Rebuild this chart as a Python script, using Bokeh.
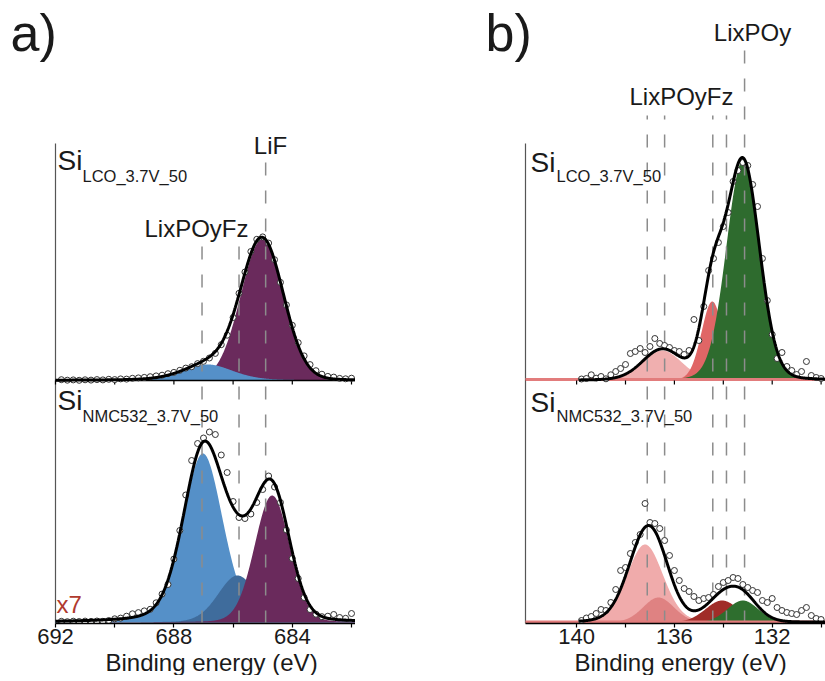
import numpy as np
from bokeh.plotting import figure
from bokeh.layouts import row
from bokeh.models import Range1d, Label, FixedTicker, Title
from bokeh.embed import file_html
from bokeh.resources import INLINE

# ---------------- data ----------------
# a) F 1s region
energy_a = [691.8, 691.6, 691.4, 691.2, 691.0, 690.8, 690.6, 690.4, 690.2, 690.0,
            689.8, 689.6, 689.4, 689.2, 689.0, 688.8, 688.6, 688.4, 688.2, 688.0,
            687.8, 687.6, 687.4, 687.2, 687.0, 686.8, 686.6, 686.4, 686.2, 686.0,
            685.8, 685.6, 685.4, 685.2, 685.0, 684.8, 684.6, 684.4, 684.2, 684.0,
            683.8, 683.6, 683.4, 683.2, 683.0, 682.8, 682.6, 682.4, 682.2, 682.0]
f1s_lco = [0.8, 0.3, 0.6, 0.2, 0.7, 0.4, 0.9, 0.6, 1.2, 0.9,
           1.6, 1.4, 2.2, 2.6, 3.1, 3.8, 4.6, 5.3, 6.8, 8.1,
           10.2, 12.4, 13.8, 16.9, 19.2, 22.5, 27.1, 35.8, 45.3, 63.0,
           87.2, 108.5, 129.0, 141.2, 143.6, 137.4, 120.8, 98.1, 75.6, 55.2,
           37.8, 24.6, 15.9, 9.8, 6.3, 4.1, 3.4, 2.1, 1.7, 2.3]
f1s_nmc = [1.2, 0.8, 1.3, 1.0, 1.4, 1.1, 1.5, 1.2, 2.0, 3.7,
           4.4, 6.3, 8.7, 9.9, 11.6, 13.2, 19.7, 28.4, 38.0, 63.5,
           92.0, 127.5, 162.0, 179.0, 184.5, 190.5, 188.0, 167.5, 150.0, 121.0,
           105.0, 104.0, 108.5, 120.0, 133.0, 146.5, 135.5, 120.0, 92.5, 64.0,
           44.0, 25.0, 13.0, 8.3, 5.8, 6.3, 8.0, 5.0, 4.2, 9.0]

# b) P 2p region
energy_b = [139.8, 139.6, 139.4, 139.2, 139.0, 138.8, 138.6, 138.4, 138.2, 138.0,
            137.8, 137.6, 137.4, 137.2, 137.0, 136.8, 136.6, 136.4, 136.2, 136.0,
            135.8, 135.6, 135.4, 135.2, 135.0, 134.8, 134.6, 134.4, 134.2, 134.0,
            133.8, 133.6, 133.4, 133.2, 133.0, 132.8, 132.6, 132.4, 132.2, 132.0,
            131.8, 131.6, 131.4, 131.2, 131.0, 130.8, 130.6, 130.4, 130.2, 130.0]
p2p_lco = [1.5, 2.0, 5.7, 2.3, 4.0, 1.7, 5.7, 9.0, 12.0, 16.0,
           27.0, 29.0, 32.0, 28.0, 34.0, 42.0, 37.0, 35.0, 33.0, 30.0,
           29.0, 26.0, 30.0, 61.0, 40.0, 74.0, 110.0, 122.0, 138.0, 154.0,
           168.0, 199.0, 210.0, 218.0, 215.0, 196.0, 174.0, 122.0, 80.0, 46.0,
           22.0, 28.0, 14.0, 10.0, 6.0, 9.0, 19.0, 5.0, 3.0, 2.0]
p2p_nmc = [2.0, 4.5, 6.0, 9.0, 13.0, 12.0, 20.0, 33.0, 52.0, 55.0,
           69.0, 80.0, 88.0, 119.0, 100.0, 99.0, 94.0, 82.0, 67.0, 52.0,
           42.0, 34.0, 31.0, 26.0, 22.0, 24.0, 25.0, 28.0, 36.0, 40.0,
           42.0, 45.0, 44.0, 38.0, 35.0, 32.0, 30.0, 22.0, 20.0, 24.0,
           15.0, 12.0, 10.0, 9.0, 8.0, 12.0, 15.0, 7.0, 4.0, 3.0]

# fitted components: centre (eV), height, FWHM (eV), Lorentzian fraction
# (listed in drawing order, back to front)
f1s_lco_names = ["LiF", "LixPOyFz"]
f1s_lco_center = [685.02, 686.85]
f1s_lco_height = [141.0, 16.0]
f1s_lco_fwhm = [1.7, 2.0]
f1s_lco_eta = [0.05, 0.35]

f1s_nmc_names = ["LixPOyFz", "LixPOyFz (2)", "LiF"]
f1s_nmc_center = [687.02, 685.85, 684.68]
f1s_nmc_height = [169.0, 47.0, 127.0]
f1s_nmc_fwhm = [1.6, 1.55, 1.4]
f1s_nmc_eta = [0.25, 0.15, 0.1]

p2p_lco_names = ["LixPOyFz", "LixPOyFz (2)", "LixPOy"]
p2p_lco_center = [136.5, 134.45, 133.2]
p2p_lco_height = [30.0, 79.0, 220.0]
p2p_lco_fwhm = [1.9, 1.05, 1.6]
p2p_lco_eta = [0.1, 0.1, 0.1]

p2p_nmc_names = ["LixPOyFz", "LixPOyFz (b)", "LixPOyFz (2)", "LixPOy"]
p2p_nmc_center = [137.2, 136.65, 134.05, 133.2]
p2p_nmc_height = [78.0, 25.0, 22.0, 22.0]
p2p_nmc_fwhm = [1.75, 1.5, 1.6, 1.5]
p2p_nmc_eta = [0.15, 0.1, 0.1, 0.1]

# reference (dashed) line energies
ref_a_lif = [684.9]
ref_a_lixpoyfz = [687.05, 685.8]
ref_b_lixpoy = [133.13]
ref_b_lixpoyfz = [137.11, 136.4, 134.43, 133.87]

# axis ticks
ticks_a_major = [692, 688, 684]
ticks_a_minor = [690, 686, 682]
ticks_b_major = [140, 136, 132]
ticks_b_minor = [138, 134, 130]

# ---------------- styles / layout ----------------
FONT = "Liberation Sans"
TXT = "#1a1a1a"
Y_TOP = 242          # vertical offset of the upper spectrum
col_f1s_lco = ["#6a2a5c", "#5590c8"]
col_f1s_nmc = ["#5590c8", "#3f6c9c", "#6a2a5c"]
col_p2p_lco = ["#f0afaf", "#e06666", "#2e6b2e"]
col_p2p_nmc = ["#f0abab", "#df8282", "#a02d28", "#2e6e2e"]


def pv(x, c, h, w, eta):
    t = ((x - c) / w) ** 2
    return h * ((1 - eta) * np.exp(-4 * np.log(2) * t) + eta / (1 + 4 * t))


def ypx(p):
    return 622 - p


def make_fig(x0, x1, frame_w, bounds, tmaj, tmin, title_offset):
    p = figure(frame_width=frame_w, frame_height=618, min_border_left=0, min_border_right=0,
               min_border_top=5, min_border_bottom=0,
               x_range=Range1d(x0, x1), y_range=Range1d(-1, 617),
               output_backend="svg", toolbar_location=None,
               background_fill_color="white", border_fill_color="white")
    p.outline_line_color = None
    p.grid.visible = False
    p.yaxis.visible = False
    xa = p.xaxis[0]
    xa.bounds = bounds
    xa.ticker = FixedTicker(ticks=tmaj, minor_ticks=tmin)
    xa.major_label_text_font = FONT
    xa.major_label_text_font_size = "22px"
    xa.major_label_text_color = TXT
    xa.major_label_standoff = 1
    xa.axis_line_width = 1.5
    xa.axis_line_color = "black"
    xa.major_tick_out = 4
    xa.major_tick_in = 0
    xa.minor_tick_out = 4
    xa.minor_tick_in = 0
    xa.major_tick_line_width = 1.2
    xa.minor_tick_line_width = 1.2
    p.add_layout(Title(text="Binding energy (eV)", align="left", offset=title_offset,
                       text_font=FONT, text_font_size="24px", text_font_style="normal",
                       text_color=TXT, standoff=0), "below")
    # left (intensity) axis line, no ticks
    p.segment(x0=[bounds[1]], x1=[bounds[1]], y0=[-1], y1=[ypx(143)],
              line_color="#555555", line_width=1.2)
    return p


def fills(p, grid, centers, heights, fwhms, etas, colors, offset):
    for c, h, w, e, col in zip(centers, heights, fwhms, etas, colors):
        p.varea(x=grid, y1=np.full_like(grid, offset), y2=offset + pv(grid, c, h, w, e),
                fill_color=col, fill_alpha=1.0)


def envelope(p, grid, centers, heights, fwhms, etas, offset):
    env = np.zeros_like(grid)
    for c, h, w, e in zip(centers, heights, fwhms, etas):
        env = env + pv(grid, c, h, w, e)
    p.line(grid, offset + env, line_color="black", line_width=3)


def points(p, xs, ys, offset):
    p.scatter(xs, [offset + v for v in ys], marker="circle", size=6,
              fill_color="white", line_color="#333333", line_width=1)


def dashed(p, xs, top):
    p.segment(x0=xs, x1=xs, y0=[-1] * len(xs), y1=[top] * len(xs),
              line_color="#8c8c8c", line_width=1.5, line_dash="13 15")


def hline(p, bounds, y, color, width):
    p.segment(x0=[bounds[0]], x1=[bounds[1]], y0=[y], y1=[y], line_color=color, line_width=width)


def mid_ticks(p, ticks):
    p.segment(x0=ticks, x1=ticks, y0=[Y_TOP] * len(ticks), y1=[Y_TOP - 4] * len(ticks),
              line_color="black", line_width=1.2)


def label(p, x, base_px, text, size, align="left", color=TXT):
    # base_px: wanted pixel row of the text baseline
    y = ypx(base_px - 0.34 * size)
    p.add_layout(Label(x=x, y=y, text=text, text_font=FONT, text_font_size=f"{size}px",
                       text_align=align, text_baseline="alphabetic", text_color=color))


# ---------------- panel a ----------------
ax0 = 692.0
apx = 29.6
def xa_px(px):
    return ax0 - (px - 55) / apx

a_bounds = (xa_px(355), ax0)
pa = make_fig(xa_px(0), xa_px(355), 355, a_bounds, ticks_a_major, ticks_a_minor, 105)
grid_a = np.linspace(a_bounds[1], a_bounds[0], 700)
fills(pa, grid_a, f1s_lco_center, f1s_lco_height, f1s_lco_fwhm, f1s_lco_eta, col_f1s_lco, Y_TOP)
fills(pa, grid_a, f1s_nmc_center, f1s_nmc_height, f1s_nmc_fwhm, f1s_nmc_eta, col_f1s_nmc, 0)
dashed(pa, ref_a_lif, ypx(162))
dashed(pa, ref_a_lixpoyfz, ypx(242))
hline(pa, a_bounds, Y_TOP, "black", 1.5)
mid_ticks(pa, ticks_a_major + ticks_a_minor)
points(pa, energy_a, f1s_lco, Y_TOP)
points(pa, energy_a, f1s_nmc, 0)
envelope(pa, grid_a, f1s_lco_center, f1s_lco_height, f1s_lco_fwhm, f1s_lco_eta, Y_TOP)
envelope(pa, grid_a, f1s_nmc_center, f1s_nmc_height, f1s_nmc_fwhm, f1s_nmc_eta, 0)

label(pa, xa_px(10), 50, "a)", 52)
label(pa, xa_px(270), 153, "LiF", 24, "center")
label(pa, xa_px(196), 236, "LixPOyFz", 24, "center")
label(pa, xa_px(57), 170, "Si", 28)
label(pa, xa_px(82), 181, "LCO_3.7V_50", 16.5)
label(pa, xa_px(57), 410, "Si", 28)
label(pa, xa_px(82), 421, "NMC532_3.7V_50", 16.5)
label(pa, xa_px(56), 612, "x7", 24, color="#b03a2e")

# ---------------- panel b ----------------
bx0 = 142.09
bpx = 24.45
def xb_px(px):
    return bx0 - (px - 525) / bpx

b_bounds = (xb_px(825), bx0)
pb = make_fig(xb_px(355), xb_px(825), 470, b_bounds, ticks_b_major, ticks_b_minor, 219)
grid_b = np.linspace(139.9, b_bounds[0], 700)
fills(pb, grid_b, p2p_lco_center, p2p_lco_height, p2p_lco_fwhm, p2p_lco_eta, col_p2p_lco, Y_TOP)
fills(pb, grid_b, p2p_nmc_center, p2p_nmc_height, p2p_nmc_fwhm, p2p_nmc_eta, col_p2p_nmc, 0)
dashed(pb, ref_b_lixpoy, ypx(50))
dashed(pb, ref_b_lixpoyfz, ypx(115))
hline(pb, b_bounds, Y_TOP, "black", 1.2)
hline(pb, b_bounds, Y_TOP + 1, "#e27c7c", 3)
hline(pb, b_bounds, 0.5, "#e27c7c", 3)
mid_ticks(pb, ticks_b_major + ticks_b_minor)
points(pb, energy_b, p2p_lco, Y_TOP)
points(pb, energy_b, p2p_nmc, 0)
envelope(pb, grid_b, p2p_lco_center, p2p_lco_height, p2p_lco_fwhm, p2p_lco_eta, Y_TOP)
envelope(pb, grid_b, p2p_nmc_center, p2p_nmc_height, p2p_nmc_fwhm, p2p_nmc_eta, 0)

label(pb, xb_px(485), 50, "b)", 52)
label(pb, xb_px(752), 40, "LixPOy", 24, "center")
label(pb, xb_px(681), 104, "LixPOyFz", 24, "center")
label(pb, xb_px(530), 172, "Si", 28)
label(pb, xb_px(556), 181, "LCO_3.7V_50", 16.5)
label(pb, xb_px(530), 412, "Si", 28)
label(pb, xb_px(556), 421, "NMC532_3.7V_50", 16.5)

layout = row(pa, pb)
open("out.html", "w").write(file_html(layout, INLINE))
